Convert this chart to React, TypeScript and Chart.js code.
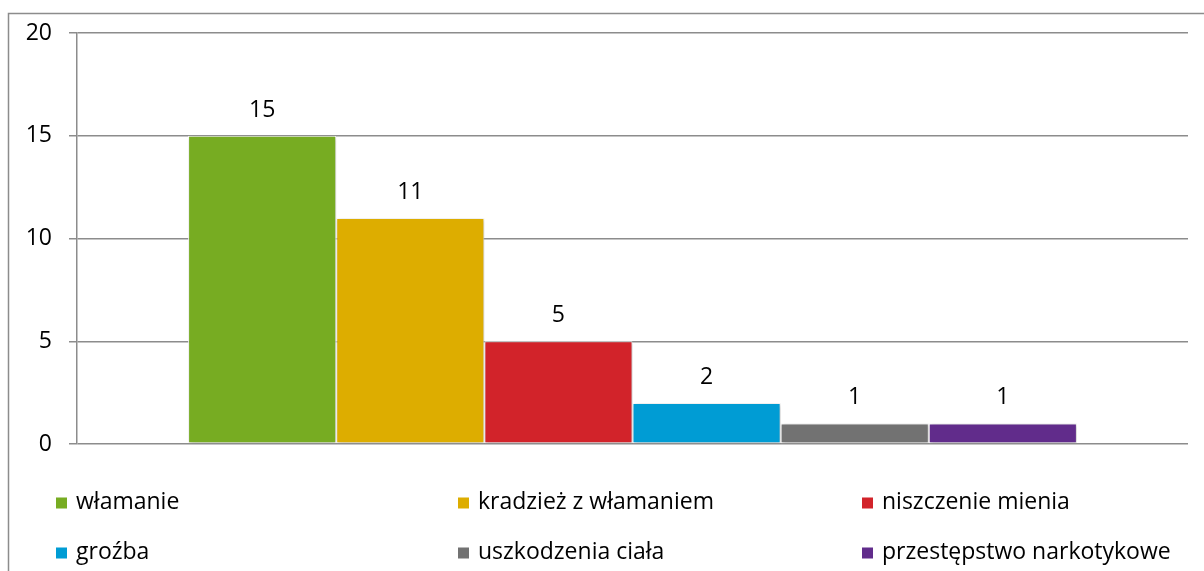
import React, { useEffect, useRef } from "react";
import { Chart, registerables } from "chart.js";

Chart.register(...registerables);

const categories: string[] = [""];
const seriesNames: string[] = [
  "włamanie",
  "kradzież z włamaniem",
  "niszczenie mienia",
  "groźba",
  "uszkodzenia ciała",
  "przestępstwo narkotykowe",
];
const seriesValues: number[] = [15, 11, 5, 2, 1, 1];
const seriesColors: string[] = ["#77AC22", "#DDAD00", "#D2232A", "#009CD4", "#727272", "#612C8B"];
const yTicks: number[] = [0, 5, 10, 15, 20];

const FONT = "'Open Sans', 'Noto Sans', sans-serif";
const FONT_SIZE = 23;

const framePlugin = {
  id: "frame",
  beforeDraw(chart: any) {
    const ctx = chart.ctx;
    ctx.save();
    ctx.strokeStyle = "#8c8c8c";
    ctx.lineWidth = 1.5;
    ctx.strokeRect(8.5, 13.5, 3000, 3000);
    ctx.restore();
  },
};

const shadowPlugin = {
  id: "barShadow",
  beforeDatasetsDraw(chart: any) {
    const ctx = chart.ctx;
    ctx.save();
    ctx.shadowColor = "rgba(0,0,0,0.25)";
    ctx.shadowBlur = 4;
    ctx.shadowOffsetX = 1;
    ctx.shadowOffsetY = 1;
  },
  afterDatasetsDraw(chart: any) {
    chart.ctx.restore();
  },
};

const valueLabelPlugin = {
  id: "valueLabels",
  afterDatasetsDraw(chart: any) {
    const ctx = chart.ctx;
    ctx.save();
    ctx.fillStyle = "#000";
    ctx.font = `${FONT_SIZE}px ${FONT}`;
    ctx.textAlign = "center";
    ctx.textBaseline = "alphabetic";
    chart.data.datasets.forEach((ds: any, i: number) => {
      const meta = chart.getDatasetMeta(i);
      meta.data.forEach((bar: any, j: number) => {
        ctx.fillText(String(ds.data[j]), bar.x, bar.y - 19);
      });
    });
    ctx.restore();
  },
};

const legendPlugin = {
  id: "gridLegend",
  afterDraw(chart: any) {
    const ctx = chart.ctx;
    ctx.save();
    ctx.font = `${FONT_SIZE}px ${FONT}`;
    ctx.textBaseline = "middle";
    ctx.textAlign = "left";
    const colX = [56, 458, 862];
    const rowY = [503, 553];
    chart.data.datasets.forEach((ds: any, i: number) => {
      const x = colX[i % 3];
      const y = rowY[Math.floor(i / 3)];
      ctx.fillStyle = ds.backgroundColor;
      ctx.fillRect(x, y - 5.5, 11, 11);
      ctx.fillStyle = "#000";
      ctx.fillText(ds.label, x + 20, y - 1);
    });
    ctx.restore();
  },
};

export default function App() {
  const ref = useRef<HTMLCanvasElement | null>(null);

  useEffect(() => {
    if (!ref.current) return;
    const chart = new Chart(ref.current, {
      type: "bar",
      data: {
        labels: categories,
        datasets: seriesNames.map((name, i) => ({
          label: name,
          data: [seriesValues[i]],
          backgroundColor: seriesColors[i],
          borderColor: "#ffffff",
          borderWidth: 1,
          borderSkipped: false,
          categoryPercentage: 0.8,
          barPercentage: 1.0,
        })),
      },
      options: {
        animation: false,
        responsive: false,
        layout: { padding: { top: 33, right: 16, bottom: 127, left: 0 } },
        plugins: {
          legend: { display: false },
          tooltip: { enabled: false },
        },
        scales: {
          x: { display: false },
          y: {
            min: 0,
            max: 20,
            afterFit(scale: any) {
              scale.width = 77;
            },
            afterBuildTicks(scale: any) {
              scale.ticks = yTicks.map((v) => ({ value: v }));
            },
            ticks: {
              padding: 17,
              color: "#000",
              font: { family: FONT, size: FONT_SIZE },
            },
            grid: {
              color: "#8c8c8c",
              lineWidth: 1.5,
              tickLength: 8,
              drawTicks: true,
            },
            border: { display: true, color: "#8c8c8c", width: 1.5 },
          },
        },
      },
      plugins: [framePlugin, shadowPlugin, valueLabelPlugin, legendPlugin],
    });
    return () => chart.destroy();
  }, []);

  return (
    <div style={{ position: "fixed", left: 0, top: 0, width: 1204, height: 571, background: "#fff" }}>
      <canvas ref={ref} width={1204} height={571} style={{ display: "block" }} />
    </div>
  );
}
